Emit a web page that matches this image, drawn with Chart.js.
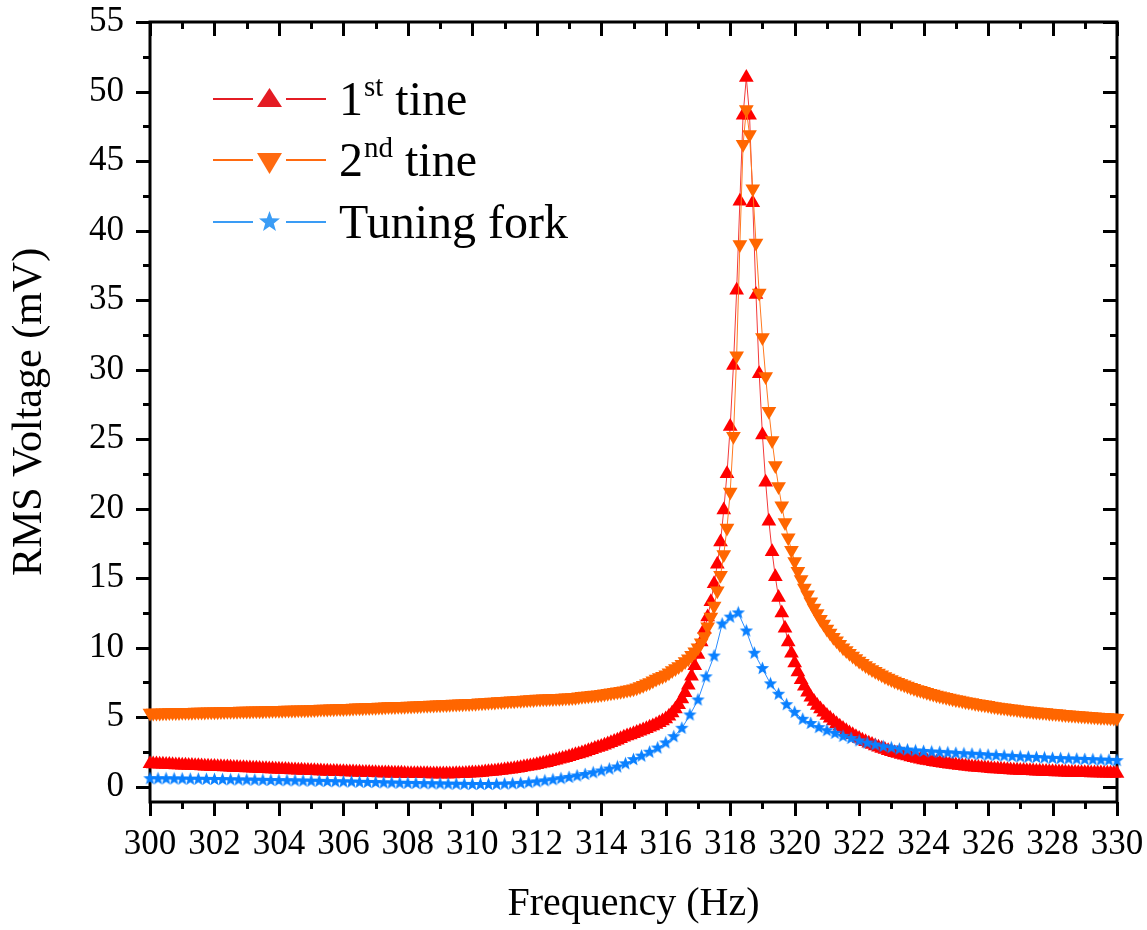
<!DOCTYPE html>
<html>
<head>
<meta charset="utf-8">
<script src="https://cdn.jsdelivr.net/npm/chart.js@4.4.0/dist/chart.umd.min.js"></script>
<style>
  html, body { margin: 0; padding: 0; background: #fff; }
  #wrap { width: 1147px; height: 930px; }
</style>
</head>
<body>
<div id="wrap"><canvas id="rmsChart" width="1147" height="930"></canvas></div>
<script>
// Frekuensi sweep: tine diukur tiap 0.1 Hz, tuning fork tiap 0.25 Hz
const sweepStart = 300;
const fineStep = 0.1;
const coarseStep = 0.25;

// RMS voltage (mV), 1st tine, 300.0 .. 330.0 Hz
const firstTine = [
  1.65,1.64,1.63,1.62,1.61,1.60,1.59,1.58,1.57,1.56,
  1.55,1.54,1.53,1.52,1.51,1.50,1.49,1.48,1.47,1.46,
  1.45,1.44,1.43,1.42,1.41,1.40,1.39,1.38,1.37,1.36,
  1.35,1.34,1.33,1.32,1.31,1.30,1.29,1.28,1.27,1.26,
  1.25,1.24,1.23,1.22,1.21,1.20,1.19,1.18,1.17,1.16,
  1.15,1.14,1.13,1.13,1.12,1.11,1.10,1.09,1.09,1.08,
  1.07,1.06,1.06,1.05,1.04,1.04,1.03,1.02,1.02,1.01,
  1.00,0.99,0.99,0.98,0.98,0.97,0.97,0.96,0.96,0.95,
  0.94,0.94,0.94,0.93,0.93,0.93,0.93,0.92,0.92,0.92,
  0.92,0.92,0.92,0.92,0.92,0.93,0.93,0.94,0.95,0.96,
  0.98,0.99,1.01,1.03,1.05,1.07,1.09,1.12,1.14,1.17,
  1.20,1.23,1.26,1.30,1.33,1.37,1.41,1.45,1.49,1.53,
  1.58,1.63,1.68,1.73,1.79,1.85,1.91,1.97,2.03,2.09,
  2.15,2.22,2.29,2.36,2.43,2.50,2.58,2.66,2.74,2.82,
  2.90,2.99,3.08,3.17,3.26,3.35,3.45,3.55,3.65,3.72,
  3.80,3.89,3.98,4.07,4.17,4.27,4.37,4.48,4.60,4.73,
  4.87,5.07,5.30,5.58,5.90,6.30,6.75,7.30,7.95,8.70,
  9.50,10.4,11.3,12.2,13.3,14.6,16.0,17.6,19.9,22.5,
  25.9,30.3,35.7,42.1,48.3,51.0,48.3,42.0,35.4,29.7,
  25.3,21.9,19.1,16.9,15.1,13.6,12.5,11.4,10.4,9.60,
  8.90,8.25,7.70,7.22,6.80,6.44,6.12,5.84,5.58,5.35,
  5.13,4.92,4.72,4.53,4.35,4.18,4.02,3.87,3.73,3.60,
  3.47,3.35,3.24,3.13,3.03,2.93,2.84,2.75,2.67,2.59,
  2.52,2.45,2.38,2.32,2.26,2.20,2.14,2.08,2.02,1.97,
  1.92,1.88,1.84,1.80,1.76,1.72,1.68,1.65,1.62,1.59,
  1.56,1.53,1.50,1.47,1.45,1.42,1.40,1.38,1.36,1.34,
  1.32,1.30,1.28,1.27,1.25,1.24,1.22,1.21,1.19,1.18,
  1.17,1.16,1.15,1.14,1.13,1.12,1.11,1.10,1.09,1.08,
  1.07,1.06,1.05,1.05,1.04,1.03,1.03,1.02,1.01,1.01,
  1.00,1.00,0.99,0.99,0.98,0.98,0.97,0.97,0.96,0.96,
  0.95
];

// RMS voltage (mV), 2nd tine, 300.0 .. 330.0 Hz
const secondTine = [
  5.30,5.30,5.31,5.31,5.32,5.32,5.33,5.33,5.34,5.34,
  5.35,5.35,5.36,5.36,5.37,5.37,5.38,5.38,5.39,5.39,
  5.40,5.40,5.41,5.41,5.42,5.42,5.43,5.43,5.44,5.44,
  5.45,5.45,5.46,5.46,5.47,5.47,5.48,5.48,5.49,5.49,
  5.50,5.50,5.51,5.51,5.52,5.52,5.53,5.53,5.54,5.54,
  5.55,5.56,5.57,5.58,5.59,5.59,5.60,5.61,5.62,5.62,
  5.63,5.64,5.65,5.66,5.67,5.67,5.68,5.69,5.70,5.71,
  5.72,5.73,5.74,5.75,5.76,5.76,5.77,5.78,5.79,5.79,
  5.80,5.81,5.82,5.83,5.84,5.85,5.86,5.87,5.88,5.89,
  5.90,5.91,5.92,5.93,5.94,5.95,5.96,5.97,5.98,5.99,
  6.00,6.01,6.03,6.04,6.06,6.07,6.09,6.10,6.12,6.13,
  6.15,6.16,6.18,6.19,6.21,6.22,6.24,6.25,6.27,6.28,
  6.30,6.31,6.32,6.33,6.34,6.35,6.36,6.37,6.38,6.39,
  6.40,6.42,6.44,6.47,6.50,6.52,6.55,6.58,6.60,6.62,
  6.65,6.68,6.72,6.75,6.79,6.83,6.87,6.91,6.96,7.00,
  7.05,7.12,7.20,7.30,7.40,7.50,7.62,7.74,7.86,7.95,
  8.05,8.20,8.35,8.50,8.65,8.80,9.00,9.20,9.45,9.70,
  10.0,10.35,10.8,11.5,12.2,13.0,14.1,15.2,16.7,18.6,
  21.2,25.2,31.0,39.0,46.2,48.7,46.9,43.0,39.1,35.5,
  32.3,29.5,27.0,24.9,23.1,21.6,20.2,19.0,17.9,17.0,
  16.2,15.5,14.9,14.3,13.8,13.3,12.85,12.45,12.05,11.7,
  11.35,11.05,10.75,10.5,10.25,10.0,9.80,9.60,9.40,9.22,
  9.05,8.88,8.72,8.57,8.43,8.30,8.17,8.05,7.93,7.82,
  7.71,7.61,7.51,7.42,7.33,7.24,7.16,7.08,7.00,6.93,
  6.86,6.79,6.72,6.66,6.60,6.54,6.48,6.43,6.38,6.33,
  6.28,6.23,6.18,6.13,6.09,6.05,6.01,5.97,5.93,5.89,
  5.85,5.81,5.77,5.73,5.70,5.67,5.64,5.61,5.58,5.55,
  5.52,5.49,5.46,5.44,5.41,5.39,5.37,5.35,5.33,5.31,
  5.28,5.26,5.24,5.22,5.20,5.18,5.16,5.14,5.12,5.10,
  5.08,5.06,5.05,5.03,5.02,5.00,4.99,4.97,4.96,4.94,
  4.93
];

// RMS voltage (mV), tuning fork, 300.00 .. 330.00 Hz
const tuningFork = [
  0.58,0.57,0.57,0.56, 0.55,0.54,0.54,0.53, 0.52,0.51,0.50,0.49,
  0.48,0.47,0.46,0.45, 0.44,0.43,0.42,0.41, 0.40,0.39,0.37,0.36,
  0.35,0.34,0.32,0.31, 0.30,0.28,0.27,0.25, 0.24,0.23,0.22,0.21,
  0.20,0.19,0.18,0.17, 0.16,0.16,0.16,0.17, 0.19,0.21,0.24,0.29,
  0.35,0.42,0.50,0.58, 0.67,0.77,0.88,1.00, 1.13,1.27,1.42,1.65,
  1.95,2.20,2.48,2.78, 3.15,3.60,4.20,5.16, 6.24,7.90,9.40,11.7,
  12.2,12.5,11.2,9.60, 8.50,7.40,6.65,5.90, 5.35,4.85,4.55,4.25,
  4.03,3.84,3.62,3.47, 3.30,3.14,3.00,2.88, 2.80,2.70,2.64,2.58,
  2.54,2.50,2.47,2.44, 2.40,2.37,2.34,2.31, 2.27,2.24,2.21,2.18,
  2.15,2.12,2.10,2.07, 2.04,2.02,2.00,1.98, 1.96,1.94,1.92,1.90,
  1.88
];

const xTicks = [300, 302, 304, 306, 308, 310, 312, 314, 316, 318, 320, 322, 324, 326, 328, 330];
const yTicks = [0, 5, 10, 15, 20, 25, 30, 35, 40, 45, 50, 55];

const serif = "'Liberation Serif', 'Times New Roman', serif";
const warnaMerah = '#ff0000';
const warnaOranye = '#ff6600';
const warnaBiru = '#0a80ff';

// Ubah array nilai jadi titik {x, y}
function toPoints(values, step) {
  return values.map((v, i) => ({ x: +(sweepStart + i * step).toFixed(2), y: v }));
}

// Bintang 5 sudut untuk marker tuning fork
function makeStar(size, outer, inner, color) {
  const c = document.createElement('canvas');
  c.width = size;
  c.height = size;
  const g = c.getContext('2d');
  g.fillStyle = color;
  starPath(g, size / 2, size / 2, outer, inner);
  g.fill();
  return c;
}

function starPath(ctx, cx, cy, outer, inner) {
  ctx.beginPath();
  for (let k = 0; k < 10; k++) {
    const r = k % 2 === 0 ? outer : inner;
    const a = -Math.PI / 2 + k * Math.PI / 5;
    ctx.lineTo(cx + r * Math.cos(a), cy + r * Math.sin(a));
  }
  ctx.closePath();
}

// Bingkai + tick mayor/minor ala Origin
const framePlugin = {
  id: 'frame',
  beforeDatasetsDraw(chart) {
    const { ctx, chartArea: a, scales: { x, y } } = chart;
    ctx.save();
    ctx.strokeStyle = '#000';
    ctx.lineWidth = 3;
    ctx.beginPath();
    for (let f = 300; f <= 330; f += 1) {
      const px = Math.round(x.getPixelForValue(f)) + 0.5;
      const len = f % 2 === 0 ? 14 : 7;
      ctx.moveTo(px, a.bottom); ctx.lineTo(px, a.bottom + len);
      ctx.moveTo(px, a.top); ctx.lineTo(px, a.top + len);
    }
    for (let v = 0; v <= 55; v += 2.5) {
      const py = Math.round(y.getPixelForValue(v)) + 0.5;
      const len = v % 5 === 0 ? 14 : 7;
      ctx.moveTo(a.left - len, py); ctx.lineTo(a.left, py);
      ctx.moveTo(a.right - len, py); ctx.lineTo(a.right, py);
    }
    ctx.stroke();
    ctx.strokeRect(a.left, a.top, a.right - a.left, a.bottom - a.top);
    ctx.restore();
  }
};

// Legenda dengan superscript
const legendRows = [
  { main: '1', sup: 'st', rest: ' tine', color: '#e41c24', marker: 'up', y: 99 },
  { main: '2', sup: 'nd', rest: ' tine', color: '#ff6a10', marker: 'down', y: 160 },
  { main: 'Tuning fork', sup: '', rest: '', color: '#3a9cf5', marker: 'star', y: 222 }
];

const legendPlugin = {
  id: 'sketchLegend',
  afterDraw(chart) {
    const ctx = chart.ctx;
    ctx.save();
    legendRows.forEach(row => {
      ctx.strokeStyle = row.color;
      ctx.fillStyle = row.color;
      ctx.lineWidth = 2;
      ctx.beginPath();
      ctx.moveTo(213, row.y); ctx.lineTo(253, row.y);
      ctx.moveTo(286, row.y); ctx.lineTo(326, row.y);
      ctx.stroke();
      const cx = 269.5;
      ctx.beginPath();
      if (row.marker === 'up') {
        ctx.moveTo(cx, row.y - 11); ctx.lineTo(cx + 12.5, row.y + 8); ctx.lineTo(cx - 12.5, row.y + 8);
        ctx.closePath();
      } else if (row.marker === 'down') {
        ctx.moveTo(cx - 12.5, row.y - 7); ctx.lineTo(cx + 12.5, row.y - 7); ctx.lineTo(cx, row.y + 14);
        ctx.closePath();
      } else {
        starPath(ctx, cx, row.y, 11, 4.5);
      }
      ctx.fill();

      ctx.fillStyle = '#000';
      ctx.textBaseline = 'alphabetic';
      ctx.textAlign = 'left';
      let tx = 339;
      const base = row.y + 16;
      ctx.font = '48px ' + serif;
      ctx.fillText(row.main, tx, base);
      tx += ctx.measureText(row.main).width;
      if (row.sup) {
        ctx.font = '29px ' + serif;
        ctx.fillText(row.sup, tx + 1, base - 19);
        tx += ctx.measureText(row.sup).width + 1;
        ctx.font = '48px ' + serif;
        ctx.fillText(row.rest, tx, base);
      }
    });
    ctx.restore();
  }
};

const chart = new Chart(document.getElementById('rmsChart'), {
  type: 'line',
  data: {
    datasets: [
      {
        label: '1st tine',
        data: toPoints(firstTine, fineStep),
        borderColor: '#f23a3a',
        borderWidth: 1,
        pointStyle: 'triangle',
        pointRadius: 8.5,
        pointBackgroundColor: warnaMerah,
        pointBorderWidth: 0,
        order: 3
      },
      {
        label: '2nd tine',
        data: toPoints(secondTine, fineStep),
        borderColor: '#ff7a20',
        borderWidth: 1,
        pointStyle: 'triangle',
        pointRotation: 180,
        pointRadius: 8.5,
        pointBackgroundColor: warnaOranye,
        pointBorderWidth: 0,
        order: 2
      },
      {
        label: 'Tuning fork',
        data: toPoints(tuningFork, coarseStep),
        borderColor: '#2a8cff',
        borderWidth: 1,
        pointStyle: makeStar(15, 7, 3, warnaBiru),
        pointRadius: 7,
        order: 1
      }
    ]
  },
  options: {
    responsive: false,
    animation: false,
    events: [],
    clip: false,
    layout: { padding: { left: 0, right: 30, top: 22, bottom: 0 } },
    plugins: {
      legend: { display: false },
      tooltip: { enabled: false }
    },
    scales: {
      x: {
        type: 'linear',
        min: 300,
        max: 330,
        afterBuildTicks: s => { s.ticks = xTicks.map(v => ({ value: v })); },
        afterFit: s => {
          s.height = 128;
          s.paddingLeft = 0;
          s.paddingRight = 0;
        },
        grid: { display: false, drawTicks: false },
        border: { display: false },
        ticks: {
          color: '#000',
          font: { family: serif, size: 35 },
          padding: 22,
          maxRotation: 0,
          autoSkip: false,
          callback: v => String(v)
        },
        title: {
          display: true,
          text: 'Frequency (Hz)',
          color: '#000',
          font: { family: serif, size: 40 },
          padding: { top: 0, bottom: 2 }
        }
      },
      y: {
        type: 'linear',
        min: -1.1,
        max: 55,
        afterBuildTicks: s => { s.ticks = yTicks.map(v => ({ value: v })); },
        afterFit: s => {
          s.width = 150;
          s.paddingTop = 0;
          s.paddingBottom = 0;
        },
        grid: { display: false, drawTicks: false },
        border: { display: false },
        ticks: {
          color: '#000',
          font: { family: serif, size: 35 },
          padding: 26,
          callback: v => String(v)
        },
        title: {
          display: true,
          text: 'RMS Voltage (mV)',
          color: '#000',
          font: { family: serif, size: 42 },
          padding: { top: 5, bottom: 0 }
        }
      }
    }
  },
  plugins: [framePlugin, legendPlugin]
});
</script>
</body>
</html>
